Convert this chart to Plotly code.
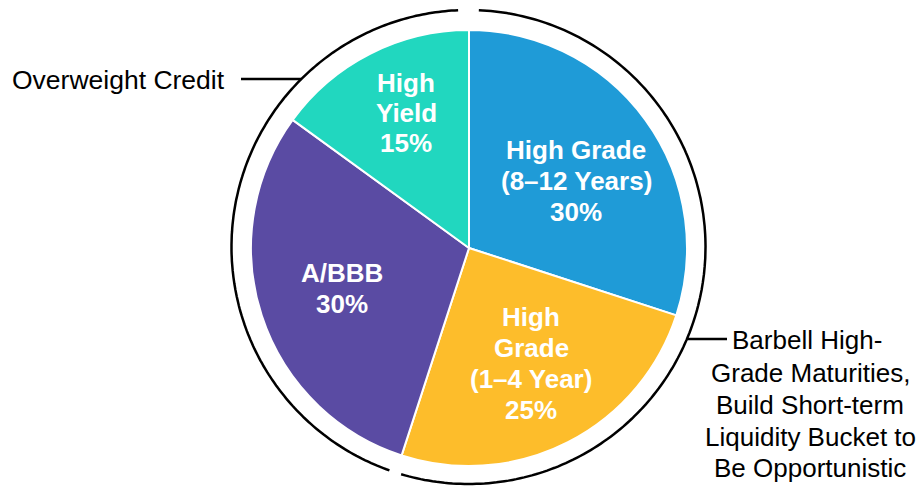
import math
import plotly.graph_objects as go

# ---- data ----
labels = ["High Grade (8–12 Years)", "High Grade (1–4 Year)", "A/BBB", "High Yield"]
label_lines = [["High Grade", "(8–12 Years)", "30%"],
               ["High", "Grade", "(1–4 Year)", "25%"],
               ["A/BBB", "30%"],
               ["High", "Yield", "15%"]]
values = [30, 25, 30, 15]
colors = ["#1F9BD7", "#FDBD2B", "#5A4BA3", "#21D7BF"]
group_text = ["Barbell High-\nGrade Maturities,\nBuild Short-term\nLiquidity Bucket to\nBe Opportunistic",
              "Overweight Credit"]
group_slices = [[0, 1], [2, 3]]

# ---- geometry (page pixels) ----
OFF = 8                      # page body margin
W, H = 924 - OFF, 489 - OFF  # figure size
CX, CY, R = 469, 248, 218
ARC_CX, ARC_CY, ARC_R = 468.5, 247, 237
FONT = "Liberation Sans, Arial, sans-serif"


def px(x):
    return (x - OFF) / W


def py(y):
    return 1 - (y - OFF) / H


fig = go.Figure()
fig.add_trace(go.Pie(
    labels=labels, values=values, sort=False, direction="clockwise", rotation=0,
    marker=dict(colors=colors, line=dict(color="white", width=2)),
    textinfo="none", hoverinfo="label+percent", showlegend=False,
    domain=dict(x=[px(CX - R), px(CX + R)], y=[py(CY + R), py(CY - R)]),
))

total = sum(values)
starts = []
acc = 0
for v in values:
    starts.append(acc / total * 360)
    acc += v
ends = [s + v / total * 360 for s, v in zip(starts, values)]

annotations = []
shapes = []

# slice labels
label_pos = [(576, [150, 181, 212]), (531, [317, 348, 379, 410]),
             (342, [273, 304]), (406, [83, 113, 143])]
for lines, (lx, lys) in zip(label_lines, label_pos):
    for t, ly in zip(lines, lys):
        annotations.append(dict(x=px(lx), y=py(ly), xref="paper", yref="paper", text="<b>%s</b>" % t,
                                showarrow=False, xanchor="center", yanchor="middle",
                                font=dict(family=FONT, size=26, color="white")))

# bracket arcs around groups
for gi, idx in enumerate(group_slices):
    a0 = starts[idx[0]]
    a1 = ends[idx[-1]]
    g0 = 2.5 if a0 % 360 == 0 else 1.5
    g1 = 2.5 if a1 % 360 == 0 else 1.5
    a0 += g0
    a1 -= g1
    n = 200
    pts = []
    for k in range(n + 1):
        a = math.radians(a0 + (a1 - a0) * k / n)
        x = ARC_CX + ARC_R * math.sin(a)
        y = ARC_CY - ARC_R * math.cos(a)
        pts.append("%.4f,%.4f" % (px(x), py(y)))
    path = "M " + " L ".join(pts)
    shapes.append(dict(type="path", path=path, xref="paper", yref="paper",
                       line=dict(color="black", width=2.5)))

# right group text + connector
rl_y = 339
rx_arc = ARC_CX + math.sqrt(ARC_R ** 2 - (rl_y - ARC_CY) ** 2)
shapes.append(dict(type="line", xref="paper", yref="paper", x0=px(rx_arc), x1=px(727),
                   y0=py(rl_y), y1=py(rl_y), line=dict(color="black", width=2.5)))
for i, (t, ly) in enumerate(zip(group_text[0].split("\n"), [340, 373, 405, 437, 468])):
    annotations.append(dict(x=px(807 if i == 0 else 810), y=py(ly), xref="paper", yref="paper", text=t,
                            showarrow=False, xanchor="center", yanchor="middle",
                            font=dict(family=FONT, size=26, color="black")))

# left group text + connector
ll_y = 79
lx_arc = ARC_CX - math.sqrt(ARC_R ** 2 - (ll_y - ARC_CY) ** 2)
shapes.append(dict(type="line", xref="paper", yref="paper", x0=px(241), x1=px(lx_arc),
                   y0=py(ll_y), y1=py(ll_y), line=dict(color="black", width=2.5)))
annotations.append(dict(x=px(10), y=py(80), xref="paper", yref="paper", text=group_text[1],
                        showarrow=False, xanchor="left", yanchor="middle",
                        font=dict(family=FONT, size=26.5, color="black")))

fig.update_layout(width=W, height=H, margin=dict(l=0, r=0, t=0, b=0),
                  paper_bgcolor="white", plot_bgcolor="white",
                  annotations=annotations, shapes=shapes)
fig.write_html("out.html")
